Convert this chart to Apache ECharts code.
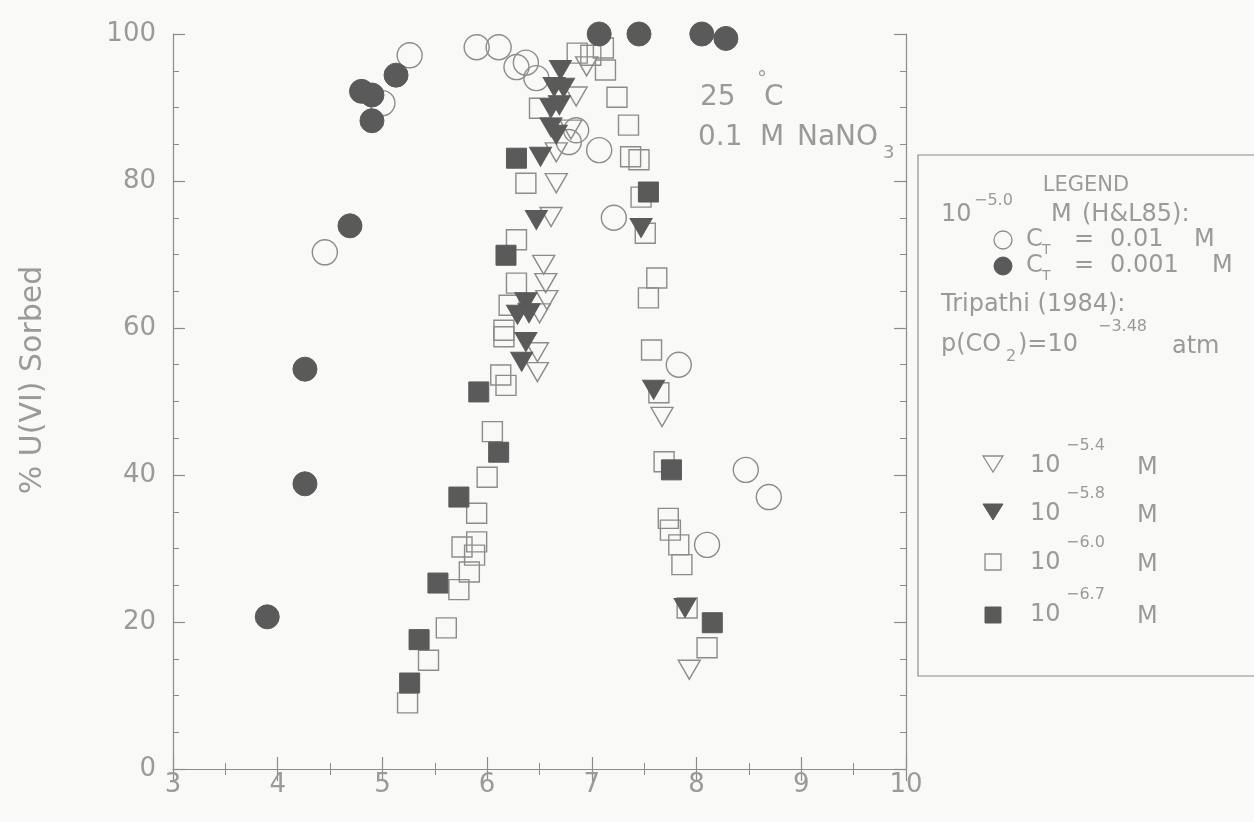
<!DOCTYPE html>
<html>
<head>
<meta charset="utf-8">
<script src="https://cdn.jsdelivr.net/npm/echarts@6/dist/echarts.min.js"></script>
<style>
html,body{margin:0;padding:0;background:#f9f9f7;}
#chart{width:1254px;height:822px;}
</style>
</head>
<body>
<div id="chart"></div>
<script>
// ---- data (pH, % U(VI) sorbed) ----
// Hsi & Langmuir 1985, 10^-5.0 M U
const phCt001 = [4.45, 5.00, 5.26, 5.90, 6.11, 6.28, 6.37, 6.47, 6.85, 6.78, 7.07, 7.21, 7.83, 8.47, 8.69, 8.10];
const pctCt001 = [70.3, 90.6, 97.1, 98.2, 98.2, 95.5, 96.1, 94.0, 86.9, 85.3, 84.2, 75.0, 55.0, 40.7, 37.0, 30.5];
const phCt0001 = [3.90, 4.26, 4.26, 4.69, 4.80, 4.90, 4.90, 5.13, 7.07, 7.45, 8.05, 8.28];
const pctCt0001 = [20.7, 38.8, 54.4, 73.9, 92.2, 91.7, 88.2, 94.4, 100.0, 100.0, 100.0, 99.4];
// Tripathi 1984
const ph54 = [6.95, 6.85, 6.80, 6.66, 6.66, 6.61, 6.54, 6.56, 6.57, 6.50, 6.48, 6.48, 7.67, 7.93];
const pct54 = [95.6, 91.5, 87.0, 83.9, 79.7, 75.1, 68.6, 66.1, 63.8, 62.0, 56.7, 54.0, 47.9, 13.5];
const ph58 = [6.70, 6.64, 6.73, 6.61, 6.69, 6.61, 6.66, 6.51, 6.47, 6.37, 6.40, 6.29, 6.37, 6.33, 7.47, 7.59, 7.89];
const pct58 = [95.1, 92.8, 92.7, 89.9, 90.3, 87.3, 86.3, 83.3, 74.7, 63.5, 62.0, 61.8, 58.1, 55.4, 73.6, 51.6, 21.9];
const ph60 = [5.24, 5.44, 5.61, 5.73, 5.83, 5.88, 5.90, 5.76, 5.90, 6.00, 6.05, 6.13, 6.18, 6.16, 6.16, 6.21, 6.28, 6.28, 6.37, 6.50,
              6.86, 6.99, 7.11, 7.13, 7.24, 7.35, 7.37, 7.45, 7.47, 7.51, 7.62, 7.54, 7.57, 7.64, 7.69, 7.73, 7.75, 7.83, 7.86, 7.91, 8.10];
const pct60 = [9.0, 14.8, 19.2, 24.4, 26.8, 29.1, 30.9, 30.2, 34.8, 39.7, 45.9, 53.6, 52.2, 58.8, 59.7, 63.1, 66.1, 72.0, 79.7, 89.9,
              97.4, 97.1, 98.1, 95.1, 91.4, 87.6, 83.3, 82.9, 77.8, 72.9, 66.8, 64.1, 57.0, 51.2, 41.8, 34.1, 32.5, 30.5, 27.8, 21.9, 16.5];
const ph67 = [5.26, 5.35, 5.53, 5.73, 5.92, 6.11, 6.18, 6.28, 7.54, 7.76, 8.15];
const pct67 = [11.7, 17.6, 25.3, 37.0, 51.3, 43.1, 69.9, 83.1, 78.5, 40.7, 19.9];
// axis ticks
const xTicks = [3, 4, 5, 6, 7, 8, 9, 10];
const yTicks = [0, 20, 40, 60, 80, 100];

const pairs = (xs, ys) => xs.map((x, i) => [x, ys[i]]);

const GRAY = '#8c8c8c';
const TXT = '#9a9a9a';
const DARK = '#5a5a5a';
const FONT = 'DejaVu Sans';

const axisCommon = {
  axisLine: {show: true, lineStyle: {color: GRAY, width: 1.2}},
  axisTick: {show: true, inside: true, length: 12, lineStyle: {color: GRAY, width: 1.2}},
  minorTick: {show: true, length: 6, lineStyle: {color: GRAY, width: 1}},
  splitLine: {show: false}
};

function xAx(pos, labels) {
  return Object.assign({}, axisCommon, {
    type: 'value', position: pos, min: xTicks[0], max: xTicks[xTicks.length - 1], interval: 1,
    minorTick: Object.assign({}, axisCommon.minorTick, {splitNumber: 2}),
    axisLabel: {show: labels, color: TXT, fontSize: 26, fontFamily: FONT, margin: 3}
  });
}
function yAx(pos, labels) {
  return Object.assign({}, axisCommon, {
    type: 'value', position: pos, min: yTicks[0], max: yTicks[yTicks.length - 1], interval: 20,
    minorTick: Object.assign({}, axisCommon.minorTick, {splitNumber: 4}),
    axisLabel: {show: labels, color: TXT, fontSize: 26, fontFamily: FONT, margin: 17}
  });
}

function openS(name, sym, size, xs, ys, rot) {
  return {name, type: 'scatter', symbol: sym, symbolSize: size, symbolRotate: rot || 0,
    data: pairs(xs, ys), itemStyle: {color: 'rgba(0,0,0,0)', borderColor: GRAY, borderWidth: 1.4, opacity: 1},
    emphasis: {disabled: true}};
}
function fillS(name, sym, size, xs, ys, rot) {
  return {name, type: 'scatter', symbol: sym, symbolSize: size, symbolRotate: rot || 0,
    data: pairs(xs, ys), itemStyle: {color: DARK, borderColor: DARK, borderWidth: 1, opacity: 1},
    emphasis: {disabled: true}};
}

// text helper for graphic
function t(x, y, text, size, extra) {
  return Object.assign({type: 'text', x, y, silent: true,
    style: Object.assign({text, fill: TXT, font: size + 'px "' + FONT + '"',
      textAlign: 'left', textVerticalAlign: 'middle', align: 'left', verticalAlign: 'middle'}, extra || {})});
}

const LS = 24; // legend font
const graphics = [
  // y axis title
  Object.assign(t(33, 380, '% U(VI) Sorbed', 30, {textAlign: 'center', align: 'center'}), {rotation: Math.PI / 2}),
  // annotation
  t(700, 98, '25', 28), t(757, 80, '°', 20), t(764, 98, 'C', 28),
  t(698, 138, '0.1', 28), t(760, 138, 'M', 28), t(797, 138, 'NaNO', 28), t(883, 153, '3', 18),
  // legend box
  {type: 'rect', shape: {x: 918, y: 155, width: 400, height: 521}, silent: true,
   style: {fill: 'rgba(0,0,0,0)', stroke: GRAY, lineWidth: 1.2}},
  t(1086, 186, 'LEGEND', 21, {textAlign: 'center', align: 'center'}),
  t(941, 215, '10', LS), t(974, 201, '−5.0', 16), t(1051, 215, 'M', LS), t(1082, 215, '(H&L85):', LS),
  {type: 'circle', shape: {cx: 1003, cy: 240, r: 9}, silent: true, style: {fill: 'rgba(0,0,0,0)', stroke: GRAY, lineWidth: 1.3}},
  t(1026, 240, 'C', LS), t(1042, 250, 'T', 14), t(1074, 240, '=', LS), t(1110, 240, '0.01', LS), t(1194, 240, 'M', LS),
  {type: 'circle', shape: {cx: 1003, cy: 266, r: 9}, silent: true, style: {fill: DARK, stroke: DARK, lineWidth: 1}},
  t(1026, 266, 'C', LS), t(1042, 276, 'T', 14), t(1074, 266, '=', LS), t(1110, 266, '0.001', LS), t(1212, 266, 'M', LS),
  t(941, 305, 'Tripathi (1984):', LS),
  t(941, 345, 'p(CO', LS), t(1006, 357, '2', 16), t(1018, 345, ')=10', LS), t(1098, 327, '−3.48', 16), t(1172, 347, 'atm', LS),
  // legend symbols
  {type: 'polygon', shape: {points: [[983, 456], [1003, 456], [993, 472]]}, silent: true, style: {fill: 'rgba(0,0,0,0)', stroke: GRAY, lineWidth: 1.3}},
  t(1030, 466, '10', LS), t(1066, 446, '−5.4', 16), t(1137, 468, 'M', LS),
  {type: 'polygon', shape: {points: [[983, 504], [1003, 504], [993, 520]]}, silent: true, style: {fill: DARK, stroke: DARK, lineWidth: 1}},
  t(1030, 514, '10', LS), t(1066, 494, '−5.8', 16), t(1137, 516, 'M', LS),
  {type: 'rect', shape: {x: 985, y: 554, width: 16, height: 16}, silent: true, style: {fill: 'rgba(0,0,0,0)', stroke: GRAY, lineWidth: 1.3}},
  t(1030, 563, '10', LS), t(1066, 543, '−6.0', 16), t(1137, 565, 'M', LS),
  {type: 'rect', shape: {x: 985, y: 607, width: 16, height: 16}, silent: true, style: {fill: DARK, stroke: DARK, lineWidth: 1}},
  t(1030, 615, '10', LS), t(1066, 595, '−6.7', 16), t(1137, 617, 'M', LS)
];

const chart = echarts.init(document.getElementById('chart'), null, {renderer: 'canvas'});
chart.setOption({
  backgroundColor: '#f9f9f7',
  animation: false,
  grid: {left: 173, right: 348, top: 34, bottom: 53, containLabel: false},
  xAxis: [xAx('bottom', true), xAx('top', false)],
  yAxis: [yAx('left', true), yAx('right', false)],
  series: [
    openS('Ct 0.01 M', 'circle', 25, phCt001, pctCt001),
    openS('10^-6.0 M', 'rect', 20, ph60, pct60),
    openS('10^-5.4 M', 'triangle', [22, 19], ph54, pct54, 180),
    fillS('10^-5.8 M', 'triangle', [22, 19], ph58, pct58, 180),
    fillS('10^-6.7 M', 'rect', 20, ph67, pct67),
    fillS('Ct 0.001 M', 'circle', 24, phCt0001, pctCt0001)
  ],
  graphic: graphics
});
</script>
</body>
</html>
